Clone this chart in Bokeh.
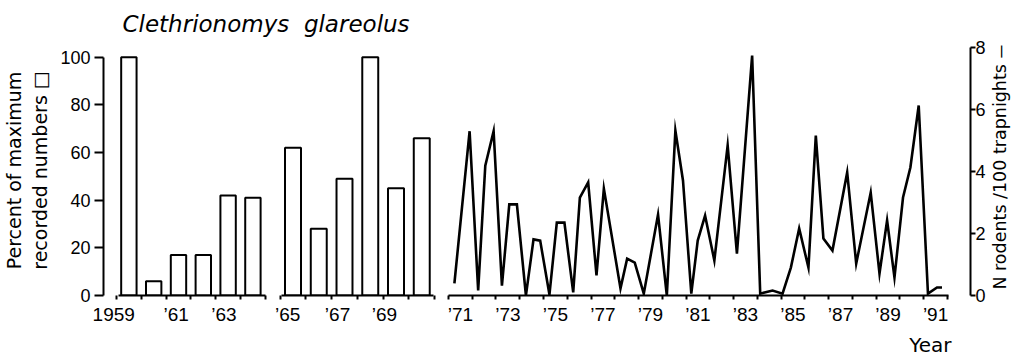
import math
from bokeh.plotting import figure
from bokeh.layouts import row, column
from bokeh.models import Range1d, FixedTicker, Label, Title
from bokeh.embed import file_html
from bokeh.resources import INLINE

# ---------------- data ----------------
title_text = "Clethrionomys\u00a0\u00a0glareolus"
left_axis_title = "Percent of maximum\nrecorded numbers \u25a1"
right_axis_title = "N rodents /100 trapnights \u2014"
x_axis_title = "Year"

years_a = [1959, 1960, 1961, 1962, 1963, 1964]
pct_a = [100, 6, 17, 17, 42, 41]
labels_a_years = [1959, 1961, 1963]
labels_a_text = ["1959", "\u201961", "\u201963"]

years_b = [1965, 1966, 1967, 1968, 1969, 1970]
pct_b = [62, 28, 49, 100, 45, 66]
labels_b_years = [1965, 1967, 1969]
labels_b_text = ["\u201965", "\u201967", "\u201969"]

# rodents per 100 trapnights (time in decimal years)
line_t = [1971.25, 1971.89, 1972.25, 1972.55, 1972.90, 1973.25, 1973.56, 1973.88,
          1974.26, 1974.58, 1974.86, 1975.25, 1975.56, 1975.88, 1976.25, 1976.53,
          1976.88, 1977.23, 1977.54, 1978.24, 1978.52, 1978.84, 1979.22, 1979.82,
          1980.19, 1980.55, 1980.87, 1981.22, 1981.49, 1981.80, 1982.19, 1982.75,
          1983.14, 1983.78, 1984.12, 1984.64, 1985.06, 1985.41, 1985.76, 1986.15,
          1986.46, 1986.78, 1987.16, 1987.78, 1988.16, 1988.77, 1989.14, 1989.46,
          1989.77, 1990.13, 1990.44, 1990.79, 1991.18, 1991.56, 1991.77]
line_n = [0.39, 5.30, 0.16, 4.19, 5.30, 0.32, 2.94, 2.94,
          0.00, 1.81, 1.77, 0.03, 2.35, 2.35, 0.10, 3.16,
          3.65, 0.65, 3.45, 0.23, 1.19, 1.06, 0.06, 2.61,
          0.00, 5.32, 3.71, 0.06, 1.77, 2.58, 1.13, 4.84,
          1.35, 7.74, 0.06, 0.16, 0.06, 0.90, 2.16, 0.90,
          5.16, 1.84, 1.45, 3.97, 1.03, 3.32, 0.71, 2.42,
          0.58, 3.16, 4.13, 6.13, 0.06, 0.26, 0.26]
labels_c_years = [1971, 1973, 1975, 1977, 1979, 1981, 1983, 1985, 1987, 1989, 1991]
labels_c_text = ["\u2019" + str(y)[2:] for y in labels_c_years]

left_ticks = [0, 20, 40, 60, 80, 100]
right_ticks = [0, 2, 4, 6, 8]

# ---------------- style ----------------
TICK_FONT = "Liberation Sans"
TEXT_FONT = "DejaVu Sans"
LW = 2

H_FULL = 361
H_ROW = 321
BOTTOM = 66


def base(p):
    p.xgrid.grid_line_color = None
    p.ygrid.grid_line_color = None
    p.outline_line_color = None
    p.background_fill_color = "white"
    p.border_fill_color = "white"


def style_x(axis, ticks, texts, minors, bounds):
    axis.ticker = FixedTicker(ticks=ticks, minor_ticks=minors)
    axis.major_label_overrides = {t: s for t, s in zip(ticks, texts)}
    axis.bounds = bounds
    axis.axis_line_width = LW
    axis.axis_line_color = "black"
    axis.major_tick_out = 0
    axis.major_tick_in = 0
    axis.minor_tick_out = 4
    axis.minor_tick_in = 0
    axis.minor_tick_line_width = LW
    axis.minor_tick_line_color = "black"
    axis.major_label_standoff = 4
    axis.major_label_text_font = TICK_FONT
    axis.major_label_text_font_size = "19px"
    axis.major_label_text_color = "black"


# --- panel A: bars 1959-1964 ---
pA = figure(width=270, height=H_ROW, x_range=Range1d(1957.977, 1964.709),
            y_range=Range1d(0, 104.9), output_backend="svg", toolbar_location=None,
            min_border_left=97, min_border_right=0, min_border_top=5,
            min_border_bottom=BOTTOM, y_axis_location="left", title=None)
base(pA)
pA.vbar(x=years_a, top=pct_a, width=0.62, fill_color="white",
        line_color="black", line_width=LW)
shift_a = [-0.61, -0.09, -0.17]
style_x(pA.xaxis[0], [y + s for y, s in zip(labels_a_years, shift_a)], labels_a_text,
        [y - 0.5 for y in years_a] + [years_a[-1] + 0.5],
        (years_a[0] - 0.4, years_a[-1] + 0.5))
ya = pA.yaxis[0]
ya.ticker = FixedTicker(ticks=left_ticks)
ya.bounds = (0, 100)
ya.axis_line_width = LW
ya.major_tick_out = 9
ya.major_tick_in = 0
ya.major_tick_line_width = LW
ya.minor_tick_out = 0
ya.minor_tick_in = 0
ya.major_label_standoff = 4
ya.major_label_text_font = TICK_FONT
ya.major_label_text_font_size = "18px"
ya.major_label_text_color = "black"
ya.axis_label = left_axis_title
ya.axis_label_text_font = TEXT_FONT
ya.axis_label_text_font_size = "19px"
ya.axis_label_text_font_style = "normal"
ya.axis_label_standoff = 6
ya.axis_label_text_color = "black"

# --- panel B: bars 1965-1970 ---
pB = figure(width=170, height=H_ROW, x_range=Range1d(1964.126, 1970.728),
            y_range=Range1d(0, 104.9), output_backend="svg", toolbar_location=None,
            min_border_left=0, min_border_right=0, min_border_top=5,
            min_border_bottom=BOTTOM, y_axis_location=None, title=None)
base(pB)
pB.vbar(x=years_b, top=pct_b, width=0.62, fill_color="white",
        line_color="black", line_width=LW)
shift_b = [-0.21, -0.27, -0.45]
style_x(pB.xaxis[0], [y + s for y, s in zip(labels_b_years, shift_b)], labels_b_text,
        [y - 0.5 for y in years_b] + [years_b[-1] + 0.5],
        (years_b[0] - 0.45, years_b[-1] + 0.47))

# --- title strip over the bar panels ---
pT = figure(width=440, height=H_FULL - H_ROW, x_range=Range1d(0, 440),
            y_range=Range1d(H_FULL - H_ROW, 0), output_backend="svg",
            toolbar_location=None, x_axis_location=None, y_axis_location=None,
            min_border=0, title=None)
base(pT)
pT.add_layout(Label(x=122, y=23, text=title_text, text_font=TEXT_FONT,
                    text_font_style="italic", text_font_size="23px",
                    text_baseline="middle", text_color="black"))

# --- panel C: line 1971-1991 ---
pC = figure(width=548, height=H_FULL, x_range=Range1d(1970.665, 1992.97),
            y_range=Range1d(0, 8.065), output_backend="svg", toolbar_location=None,
            min_border_left=0, min_border_right=16, min_border_top=45,
            min_border_bottom=BOTTOM, y_axis_location="right", title=None)
base(pC)
pC.line(x=line_t, y=line_n, line_color="black", line_width=2.6, line_join="miter")
style_x(pC.xaxis[0], [y + 0.5 for y in labels_c_years], labels_c_text,
        list(range(1971, 1993)), (1971, 1992.05))
yc = pC.yaxis[0]
yc.ticker = FixedTicker(ticks=right_ticks)
yc.bounds = (0, 8)
yc.axis_line_width = LW
yc.major_tick_out = 5
yc.major_tick_in = 0
yc.major_tick_line_width = LW
yc.minor_tick_out = 0
yc.minor_tick_in = 0
yc.major_label_standoff = 0
yc.major_label_text_font = TICK_FONT
yc.major_label_text_font_size = "18px"
yc.major_label_text_color = "black"

pC.add_layout(Title(text=x_axis_title, align="right", offset=19, standoff=7,
                    text_font=TEXT_FONT, text_font_size="20px",
                    text_font_style="normal", text_color="black"), "below")

# --- right axis title strip ---
pR = figure(width=39, height=H_FULL, x_range=Range1d(0, 39), y_range=Range1d(H_FULL, 0),
            output_backend="svg", toolbar_location=None, x_axis_location=None,
            y_axis_location=None, min_border=0, title=None)
base(pR)
pR.add_layout(Label(x=11, y=173, text=right_axis_title, angle=math.pi / 2,
                    text_align="center", text_baseline="middle",
                    text_font=TEXT_FONT, text_font_size="17.5px", text_color="black"))

layout = row(column(pT, row(pA, pB, spacing=0), spacing=0), pC, pR, spacing=0)
open("out.html", "w").write(file_html(layout, INLINE))
